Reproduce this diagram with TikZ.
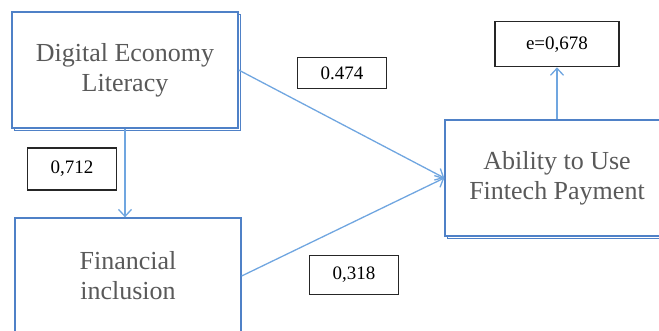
\documentclass[tikz,border=0pt]{standalone}
\usepackage{fontspec}
\setmainfont{Liberation Serif}
\usetikzlibrary{arrows.meta,positioning,shadows}
\definecolor{boxblue}{RGB}{79,129,199}
\definecolor{linkblue}{RGB}{112,166,224}
\definecolor{textgrey}{RGB}{89,89,89}

\begin{document}
\begin{tikzpicture}[
    x=1pt, y=-1pt,
    construct/.style = {
        rectangle,
        draw=boxblue,
        line width=1.3pt,
        fill=white,
        align=center,
        text=textgrey,
        font=\fontsize{26}{30}\selectfont,
        minimum width=226pt,
        minimum height=116pt
    },
    shadowed/.style = {
        copy shadow={shadow xshift=2.2pt, shadow yshift=-2.2pt,
            draw=boxblue, fill=white, line width=1pt}
    },
    coef/.style = {
        rectangle,
        draw=black!85,
        line width=1.1pt,
        fill=white,
        inner sep=0pt,
        font=\fontsize{19}{22}\selectfont,
        minimum width=89pt,
        minimum height=31pt
    },
    arrow/.style = {
        -{Straight Barb[length=7pt,width=13pt]},
        draw=linkblue,
        line width=1.3pt
    }
]
\useasboundingbox (0,0) rectangle (659,331);

\node[construct, shadowed] (literacy) at (125,70) {Digital Economy\\Literacy};
\node[construct] (inclusion) at (128,276) {Financial\\inclusion};
\node[construct, shadowed, minimum width=224pt] (ability) at (557,178) {Ability to Use\\Fintech Payment};
\node[coef, minimum width=124pt, minimum height=45pt, above=52pt of ability] (resid) {e=0,678};

\node[coef] (c474) at (342,73) {0.474};
\node[coef, minimum height=42pt] (c712) at (72,169) {0,712};
\node[coef, minimum height=39pt] (c318) at (354,275) {0,318};

\draw[arrow] (literacy.south) -- (literacy.south |- inclusion.north);
\draw[arrow] (literacy.east) -- (ability.west);
\draw[arrow] (inclusion.east) -- (ability.west);
\draw[arrow] (ability.north) -- (resid.south);

\end{tikzpicture}
\end{document}
